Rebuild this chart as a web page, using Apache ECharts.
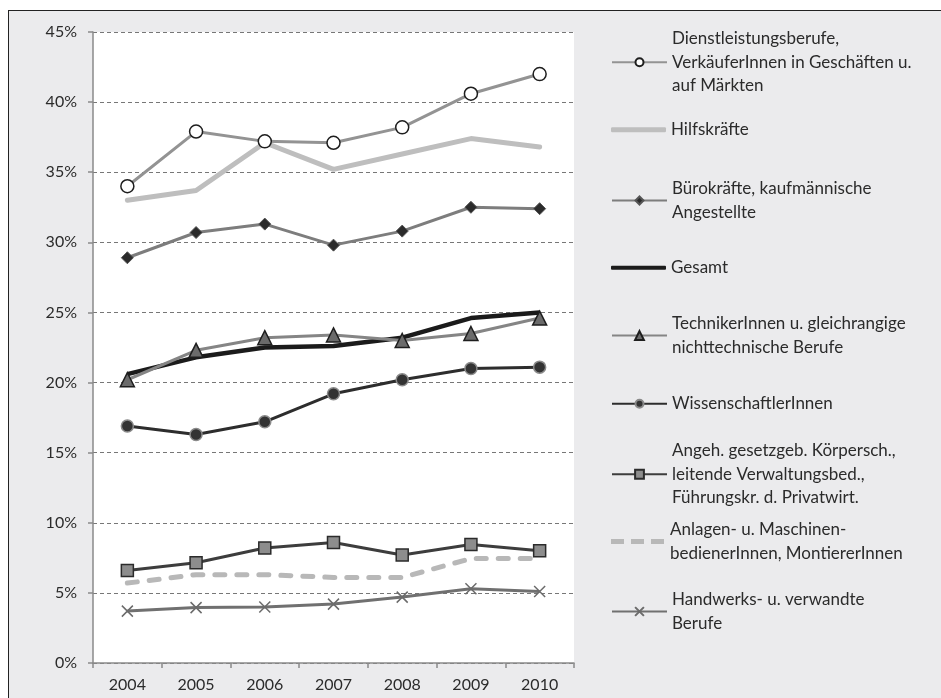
<!DOCTYPE html>
<html>
<head>
<meta charset="utf-8">
<script src="https://cdn.jsdelivr.net/npm/echarts@6/dist/echarts.min.js"></script>
<style>
html,body{margin:0;padding:0;overflow:hidden;background:#fff;}
#frame{position:absolute;left:8px;top:10px;width:1000px;height:800px;border:1.5px solid #222;background:#ebebed;}
#main{position:absolute;left:0;top:0;width:941px;height:698px;}
</style>
</head>
<body>
<div id="frame"></div>
<div id="main"></div>
<script>
// Daten (Anteil in %)
var years = ['2004', '2005', '2006', '2007', '2008', '2009', '2010'];
var yTicks = [0, 5, 10, 15, 20, 25, 30, 35, 40, 45];

var dienstleistung = [34.0, 37.9, 37.2, 37.1, 38.2, 40.6, 42.0];
var hilfskraefte   = [33.0, 33.7, 37.1, 35.2, 36.3, 37.4, 36.8];
var buerokraefte   = [28.9, 30.7, 31.3, 29.8, 30.8, 32.5, 32.4];
var gesamt         = [20.6, 21.8, 22.5, 22.6, 23.2, 24.6, 25.0];
var techniker      = [20.2, 22.3, 23.2, 23.4, 23.0, 23.5, 24.6];
var wissenschaft   = [16.9, 16.3, 17.2, 19.2, 20.2, 21.0, 21.1];
var fuehrung       = [6.6, 7.15, 8.2, 8.6, 7.7, 8.45, 8.0];
var anlagen        = [5.7, 6.3, 6.3, 6.1, 6.1, 7.45, 7.45];
var handwerk       = [3.7, 3.95, 4.0, 4.2, 4.7, 5.3, 5.1];

var names = [
	'Dienstleistungsberufe, VerkäuferInnen in Geschäften u. auf Märkten',
	'Hilfskräfte',
	'Bürokräfte, kaufmännische Angestellte',
	'Gesamt',
	'TechnikerInnen u. gleichrangige nichttechnische Berufe',
	'WissenschaftlerInnen',
	'Angeh. gesetzgeb. Körpersch., leitende Verwaltungsbed., Führungskr. d. Privatwirt.',
	'Anlagen- u. Maschinenbedienerlnnen, MontiererInnen',
	'Handwerks- u. verwandte Berufe'
];
var legendText = [
	'Dienstleistungsberufe,\nVerkäuferInnen in Geschäften u.\nauf Märkten',
	'Hilfskräfte',
	'Bürokräfte, kaufmännische\nAngestellte',
	'Gesamt',
	'TechnikerInnen u. gleichrangige\nnichttechnische Berufe',
	'WissenschaftlerInnen',
	'Angeh. gesetzgeb. Körpersch.,\nleitende Verwaltungsbed.,\nFührungskr. d. Privatwirt.',
	'Anlagen- u. Maschinen-\nbedienerInnen, MontiererInnen',
	'Handwerks- u. verwandte\nBerufe'
];

// Legendenpositionen
var legendTop = [27, 118, 177, 256, 312, 392, 439, 518, 588];
var legendIcon = [null, 'roundRect', null, 'roundRect', null, null, null,
	'path://M0,0H13V5H0Z M20,0H33V5H20Z M40,0H53V5H40Z', null];
var legendIconH = [10, 5, 10, 4, 11, 10, 11, 5, 11];

var font = 'Lato, "Open Sans", sans-serif';
var chart = echarts.init(document.getElementById('main'));

function lineSeries(name, data, lineColor, width, extra){
	var s = {
		name: name,
		type: 'line',
		data: data,
		symbol: 'none',
		lineStyle: {color: lineColor, width: width},
		itemStyle: {color: lineColor},
		emphasis: {disabled: true}
	};
	for (var k in extra) s[k] = extra[k];
	return s;
}

var series = [
	lineSeries(names[0], dienstleistung, '#939393', 3, {
		symbol: 'circle', symbolSize: 13,
		itemStyle: {color: '#fff', borderColor: '#1e1e1e', borderWidth: 1.5}
	}),
	lineSeries(names[1], hilfskraefte, '#bebebe', 5, {}),
	lineSeries(names[2], buerokraefte, '#7d7d7d', 3, {
		symbol: 'diamond', symbolSize: 12,
		itemStyle: {color: '#2b2b2b', borderColor: '#555', borderWidth: 1}
	}),
	lineSeries(names[3], gesamt, '#1b1b1b', 4.5, {}),
	lineSeries(names[4], techniker, '#858585', 3, {
		symbol: 'triangle', symbolSize: 14,
		itemStyle: {color: '#6b6b6b', borderColor: '#1e1e1e', borderWidth: 1.5}
	}),
	lineSeries(names[5], wissenschaft, '#2d2d2d', 3, {
		symbol: 'circle', symbolSize: 12,
		itemStyle: {color: '#333', borderColor: '#8a8a8a', borderWidth: 1.5}
	}),
	lineSeries(names[6], fuehrung, '#3d3d3d', 3, {
		symbol: 'rect', symbolSize: 12,
		itemStyle: {color: '#8d8d8d', borderColor: '#2b2b2b', borderWidth: 1.5}
	}),
	lineSeries(names[7], anlagen, '#b8b8b8', 5, {}),
	lineSeries(names[8], handwerk, '#707070', 3, {
		symbol: 'path://M0,0L10,10M10,0L0,10', symbolSize: 11,
		itemStyle: {color: 'none', borderColor: '#6b6b6b', borderWidth: 1.5}
	})
];
series[7].lineStyle.type = [10, 12];
series[7].lineStyle.cap = 'round';
series[1].lineStyle.cap = 'round';

var legends = names.map(function(n, i){
	return {
		data: [legendIcon[i] ? {name: n, icon: legendIcon[i]} : n],
		left: 611,
		top: legendTop[i],
		padding: 0,
		orient: 'vertical',
		itemWidth: 55,
		itemHeight: legendIconH[i],
		itemGap: 0,
		selectedMode: false,
		formatter: function(){ return legendText[i]; },
		textStyle: {fontFamily: font, fontSize: 17, lineHeight: 23.5, color: '#2b2b2b'}
	};
});

option = {
	animation: false,
	grid: {
		left: 93, right: 367, top: 32, bottom: 35,
		show: true, backgroundColor: '#fff', borderWidth: 0
	},
	legend: legends,
	xAxis: {
		type: 'category',
		data: years,
		boundaryGap: true,
		axisLine: {lineStyle: {color: '#8a8a8a', width: 1.5}},
		axisTick: {show: true, length: 5, lineStyle: {color: '#8a8a8a', width: 1.5}},
		axisLabel: {fontFamily: font, fontSize: 16, color: '#2b2b2b', margin: 14}
	},
	yAxis: {
		type: 'value',
		min: yTicks[0],
		max: yTicks[yTicks.length - 1],
		interval: 5,
		axisLine: {show: true, lineStyle: {color: '#8a8a8a', width: 1.5}},
		axisTick: {show: true, length: 5, lineStyle: {color: '#8a8a8a', width: 1.5}},
		axisLabel: {fontFamily: font, fontSize: 16, color: '#2b2b2b', margin: 16, formatter: '{value}%'},
		splitLine: {lineStyle: {color: '#777', width: 1, type: [4, 3]}}
	},
	series: series
};
chart.setOption(option);
</script>
</body>
</html>
